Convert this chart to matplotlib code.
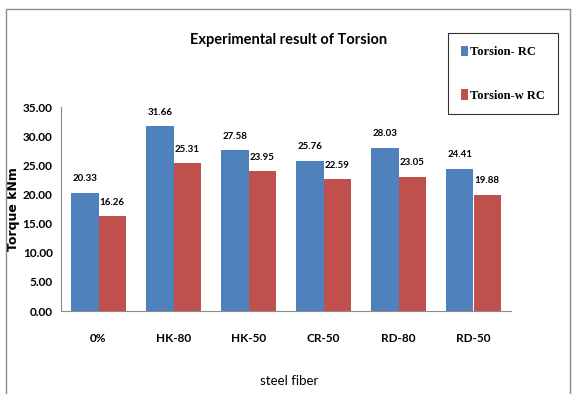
import matplotlib
matplotlib.use('Agg')
import matplotlib.pyplot as plt
import matplotlib.patches as patches
import numpy as np

categories = ['0%', 'HK-80', 'HK-50', 'CR-50', 'RD-80', 'RD-50']
torsion_rc = [20.33, 31.66, 27.58, 25.76, 28.03, 24.41]
torsion_wrc = [16.26, 25.31, 23.95, 22.59, 23.05, 19.88]
yticks = np.arange(0, 35.01, 5)

blue = '#4F81BD'
red = '#C0504D'
narrow = ['Lato', 'DejaVu Sans']

fig = plt.figure(figsize=(5.73, 3.94), dpi=100)
fig.patch.set_facecolor('white')

# outer chart frame (runs off the bottom edge)
frame = patches.Rectangle((6 / 573, -0.05), (570 - 6) / 573, 1 - 9 / 394 + 0.05,
                          transform=fig.transFigure, fill=False,
                          edgecolor='#8c8c8c', linewidth=1.0)
fig.patches.append(frame)

ax = fig.add_axes([61 / 573, 1 - 311 / 394, 450 / 573, (311 - 107) / 394])

x = np.arange(len(categories))
w = 0.367
b1 = ax.bar(x - w / 2, torsion_rc, w, color=blue, label='Torsion- RC')
b2 = ax.bar(x + w / 2, torsion_wrc, w, color=red, label='Torsion-w RC')

for bars, vals in ((b1, torsion_rc), (b2, torsion_wrc)):
    for bar, v in zip(bars, vals):
        ax.annotate(f'{v:.2f}', (bar.get_x() + bar.get_width() / 2, v),
                    xytext=(0, 7), textcoords='offset points',
                    ha='center', va='bottom', fontsize=7, fontweight='bold',
                    family=narrow)

ax.set_xlim(-0.5, len(categories) - 0.5)
ax.set_ylim(0, 35)
ax.set_yticks(yticks)
ax.set_yticklabels([f'{t:.2f}' for t in yticks], fontsize=8.5, fontweight='bold',
                   family=narrow)
ax.set_xticks(x)
ax.set_xticklabels(categories, fontsize=8.5, fontweight='bold', family=narrow)
ax.tick_params(axis='both', length=0)
ax.tick_params(axis='x', pad=16)
ax.tick_params(axis='y', pad=6)

for s in ('top', 'right'):
    ax.spines[s].set_visible(False)
for s in ('left', 'bottom'):
    ax.spines[s].set_color('#8c8c8c')
    ax.spines[s].set_linewidth(0.8)

ax.set_ylabel('Torque kNm', fontsize=9, fontweight='bold')
ax.yaxis.set_label_coords(-0.092, 0.5)
fig.text(289 / 573, 1 - 381 / 394, 'steel fiber', ha='center', va='center',
         fontsize=9.5, family=narrow)
fig.text(289 / 573, 1 - 40 / 394, 'Experimental result of Torsion', ha='center',
         va='center', fontsize=10.5, fontweight='bold', family=narrow)

leg = fig.legend(handles=[b1, b2], loc='upper left',
                 bbox_to_anchor=(448 / 573, 1 - 33 / 394),
                 prop={'family': 'Liberation Serif', 'weight': 'bold', 'size': 9},
                 frameon=True, fancybox=False, handlelength=0.6, handleheight=0.9,
                 handletextpad=0.2, labelspacing=2.5, borderpad=1.0,
                 borderaxespad=0)
leg.get_frame().set_edgecolor('black')
leg.get_frame().set_linewidth(0.8)

fig.savefig('out.png', dpi=100)
